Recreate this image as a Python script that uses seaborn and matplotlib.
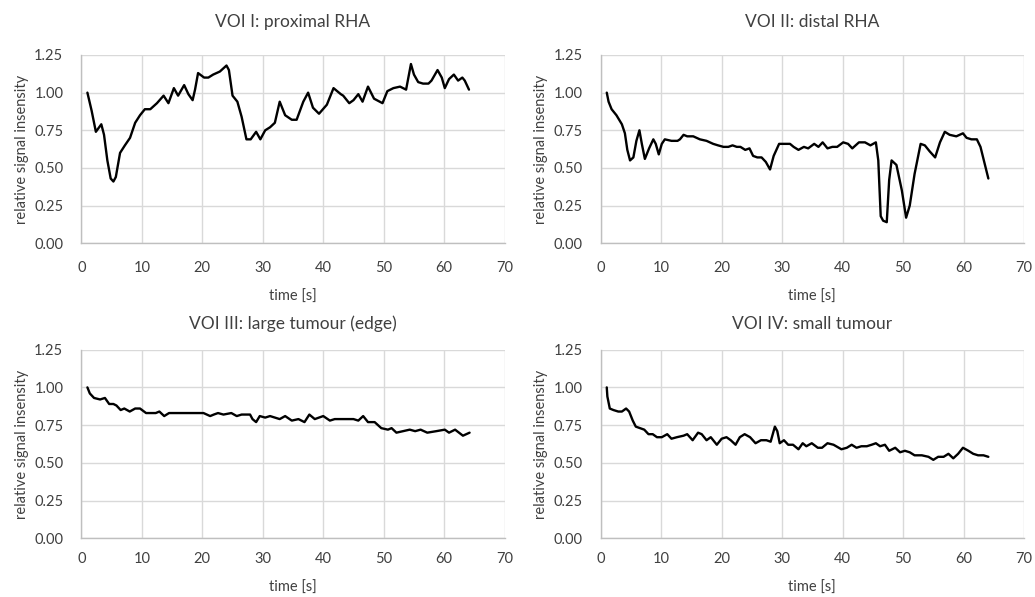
import matplotlib
matplotlib.use("Agg")
import matplotlib.pyplot as plt
import seaborn as sns
from matplotlib.ticker import FormatStrFormatter

# VOI I: proximal RHA
t1 = [1.0, 1.7, 2.4, 3.3, 3.75, 4.3, 4.85, 5.3, 5.7, 6.4, 7.2, 8.05, 8.9, 9.7, 10.5,
      11.4, 12.5, 13.6, 14.4, 15.3, 16.0, 17.0, 17.7, 18.4, 18.8, 19.3, 20.3, 21.0,
      21.8, 22.9, 24.0, 24.4, 25.0, 25.8, 26.5, 27.3, 28.0, 28.9, 29.6, 30.4, 31.2,
      32.0, 32.8, 33.7, 34.8, 35.6, 36.7, 37.5, 38.3, 39.3, 40.6, 41.7, 42.9, 43.3,
      44.3, 45.0, 45.8, 46.5, 47.4, 48.4, 49.8, 50.6, 51.6, 52.7, 53.7, 54.5, 55.0,
      55.7, 56.5, 57.4, 57.9, 58.9, 59.6, 60.1, 60.8, 61.6, 62.3, 63.0, 63.4, 64.1]
v1 = [1.00, 0.88, 0.74, 0.79, 0.72, 0.55, 0.43, 0.41, 0.44, 0.60, 0.65, 0.70, 0.80,
      0.85, 0.89, 0.89, 0.93, 0.98, 0.93, 1.03, 0.98, 1.05, 0.99, 0.95, 1.02, 1.13,
      1.10, 1.10, 1.12, 1.14, 1.18, 1.15, 0.98, 0.94, 0.84, 0.69, 0.69, 0.74, 0.69,
      0.75, 0.77, 0.80, 0.94, 0.85, 0.82, 0.82, 0.94, 1.00, 0.90, 0.86, 0.92, 1.03,
      0.99, 0.98, 0.93, 0.95, 0.99, 0.94, 1.04, 0.96, 0.93, 1.01, 1.03, 1.04, 1.02,
      1.19, 1.12, 1.07, 1.06, 1.06, 1.08, 1.15, 1.10, 1.03, 1.09, 1.12, 1.08, 1.10,
      1.08, 1.02]

# VOI II: distal RHA
t2 = [1.0, 1.3, 1.8, 2.6, 3.5, 4.0, 4.4, 4.85, 5.4, 5.9, 6.4, 6.8, 7.3, 8.0, 8.7,
      9.1, 9.6, 10.1, 10.6, 11.7, 12.7, 13.1, 13.7, 14.3, 15.3, 16.4, 17.5, 18.6,
      19.4, 20.3, 21.1, 21.8, 22.5, 23.1, 23.9, 24.6, 25.2, 25.9, 26.6, 27.3, 28.0,
      28.6, 29.5, 30.2, 31.3, 31.9, 32.7, 33.6, 34.3, 35.3, 36.0, 36.7, 37.5, 38.3,
      39.1, 40.1, 40.9, 41.6, 42.7, 43.7, 44.6, 45.5, 45.9, 46.3, 46.7, 47.3, 47.7,
      48.1, 48.9, 49.8, 50.5, 51.1, 51.9, 52.9, 53.6, 54.4, 55.3, 56.1, 56.9, 57.7,
      58.8, 59.9, 60.5, 61.3, 62.2, 62.8, 64.1]
v2 = [1.00, 0.94, 0.89, 0.85, 0.79, 0.73, 0.62, 0.55, 0.57, 0.68, 0.75, 0.66, 0.56,
      0.63, 0.69, 0.66, 0.59, 0.66, 0.69, 0.68, 0.68, 0.69, 0.72, 0.71, 0.71, 0.69,
      0.68, 0.66, 0.65, 0.64, 0.64, 0.65, 0.64, 0.64, 0.62, 0.63, 0.58, 0.57, 0.57,
      0.54, 0.49, 0.58, 0.66, 0.66, 0.66, 0.64, 0.62, 0.64, 0.63, 0.66, 0.64, 0.67,
      0.63, 0.64, 0.64, 0.67, 0.66, 0.63, 0.67, 0.67, 0.65, 0.67, 0.55, 0.18, 0.15,
      0.14, 0.42, 0.55, 0.52, 0.35, 0.17, 0.25, 0.46, 0.66, 0.65, 0.61, 0.57, 0.67,
      0.74, 0.72, 0.71, 0.73, 0.70, 0.69, 0.69, 0.64, 0.43]

# VOI III: large tumour (edge)
t3 = [1.0, 1.4, 2.1, 3.1, 3.9, 4.6, 5.3, 5.8, 6.5, 7.1, 8.0, 8.9, 9.7, 10.7, 11.6,
      12.3, 12.9, 13.7, 14.5, 15.8, 17.4, 19.1, 20.2, 21.3, 21.9, 22.6, 23.5, 24.8,
      25.7, 26.5, 27.9, 28.3, 28.9, 29.5, 30.4, 31.2, 32.8, 33.7, 34.8, 35.9, 36.9,
      37.7, 38.6, 40.0, 41.1, 41.9, 43.3, 45.0, 45.8, 46.6, 47.4, 48.5, 49.6, 50.7,
      51.3, 52.1, 53.2, 54.3, 55.2, 56.1, 57.2, 58.7, 60.1, 60.8, 61.8, 63.1, 64.2]
v3 = [1.00, 0.96, 0.93, 0.92, 0.93, 0.89, 0.89, 0.88, 0.85, 0.86, 0.84, 0.86, 0.86,
      0.83, 0.83, 0.83, 0.84, 0.81, 0.83, 0.83, 0.83, 0.83, 0.83, 0.81, 0.82, 0.83,
      0.82, 0.83, 0.81, 0.82, 0.82, 0.79, 0.77, 0.81, 0.80, 0.81, 0.79, 0.81, 0.78,
      0.79, 0.77, 0.82, 0.79, 0.81, 0.78, 0.79, 0.79, 0.79, 0.78, 0.81, 0.77, 0.77,
      0.73, 0.72, 0.73, 0.70, 0.71, 0.72, 0.71, 0.72, 0.70, 0.71, 0.72, 0.70, 0.72,
      0.68, 0.70]

# VOI IV: small tumour
t4 = [1.0, 1.1, 1.5, 2.1, 2.9, 3.5, 4.2, 4.7, 5.3, 5.8, 6.5, 7.2, 7.9, 8.6, 9.3,
      10.1, 11.0, 11.7, 12.6, 13.7, 14.3, 15.2, 16.1, 16.7, 17.5, 18.2, 19.2, 20.0,
      20.8, 21.5, 22.3, 23.0, 23.8, 24.7, 25.6, 26.5, 27.4, 28.1, 28.8, 29.2, 29.6,
      30.3, 31.0, 31.8, 32.7, 33.4, 34.0, 34.9, 35.9, 36.6, 37.5, 38.5, 39.8, 40.7,
      41.5, 42.3, 43.1, 44.0, 44.8, 45.5, 46.2, 47.0, 47.7, 48.7, 49.5, 50.3, 51.1,
      51.9, 53.1, 54.2, 55.0, 55.8, 56.7, 57.5, 58.3, 59.1, 59.9, 60.8, 61.6, 62.4,
      63.3, 64.1]
v4 = [1.00, 0.94, 0.86, 0.85, 0.84, 0.84, 0.86, 0.84, 0.78, 0.74, 0.73, 0.72, 0.69,
      0.69, 0.67, 0.67, 0.69, 0.66, 0.67, 0.68, 0.69, 0.65, 0.70, 0.69, 0.65, 0.67,
      0.62, 0.66, 0.67, 0.65, 0.62, 0.67, 0.69, 0.67, 0.63, 0.65, 0.65, 0.64, 0.74,
      0.71, 0.63, 0.65, 0.62, 0.62, 0.59, 0.63, 0.61, 0.63, 0.60, 0.60, 0.63, 0.62,
      0.59, 0.60, 0.62, 0.60, 0.61, 0.61, 0.62, 0.63, 0.61, 0.62, 0.58, 0.60, 0.57,
      0.58, 0.57, 0.55, 0.55, 0.54, 0.52, 0.54, 0.54, 0.56, 0.53, 0.56, 0.60, 0.58,
      0.56, 0.55, 0.55, 0.54]

titles = ["VOI I: proximal RHA", "VOI II: distal RHA",
          "VOI III: large tumour (edge)", "VOI IV: small tumour"]
x_ticks = [0, 10, 20, 30, 40, 50, 60, 70]
y_ticks = [0.0, 0.25, 0.5, 0.75, 1.0, 1.25]

sns.set_style("white")
plt.rcParams["font.family"] = ["Lato", "DejaVu Sans"]

fig = plt.figure(figsize=(10.35, 5.97), dpi=100)
rects = [
    [0.0786, 0.5925, 0.409, 0.3154],
    [0.5804, 0.5925, 0.409, 0.3154],
    [0.0786, 0.0983, 0.409, 0.3160],
    [0.5804, 0.0983, 0.409, 0.3160],
]
title_pads = [20, 20, 15, 15]
xtick_pads = [13, 13, 9.5, 9.5]
xlabel_pads = [10.5, 10.5, 11, 11]
series = [(t1, v1), (t2, v2), (t3, v3), (t4, v4)]

for i, ((t, v), title) in enumerate(zip(series, titles)):
    ax = fig.add_axes(rects[i])
    sns.lineplot(x=t, y=v, ax=ax, color="black", linewidth=1.7,
                 solid_joinstyle="round", solid_capstyle="round")
    ax.set_xlim(0, 70)
    ax.set_ylim(0, 1.25)
    ax.set_xticks(x_ticks)
    ax.set_yticks(y_ticks)
    ax.yaxis.set_major_formatter(FormatStrFormatter("%.2f"))
    ax.grid(True, color="#d9d9d9", linewidth=1.0)
    ax.set_axisbelow(True)
    for side in ["top", "right"]:
        ax.spines[side].set_visible(False)
    for side in ["left", "bottom"]:
        ax.spines[side].set_color("#bfbfbf")
        ax.spines[side].set_linewidth(1.0)
    ax.tick_params(axis="y", length=0, labelsize=10.5, labelcolor="#404040", pad=13)
    ax.tick_params(axis="x", length=0, labelsize=10.5, labelcolor="#404040",
                   pad=xtick_pads[i])
    ax.set_xlabel("time [s]", fontsize=10.5, color="#404040", labelpad=xlabel_pads[i])
    ax.set_ylabel("relative signal insensity", fontsize=10.5, color="#404040", labelpad=4)
    ax.set_title(title, fontsize=12.5, color="#404040", pad=title_pads[i])

fig.savefig("out.png", dpi=100)
